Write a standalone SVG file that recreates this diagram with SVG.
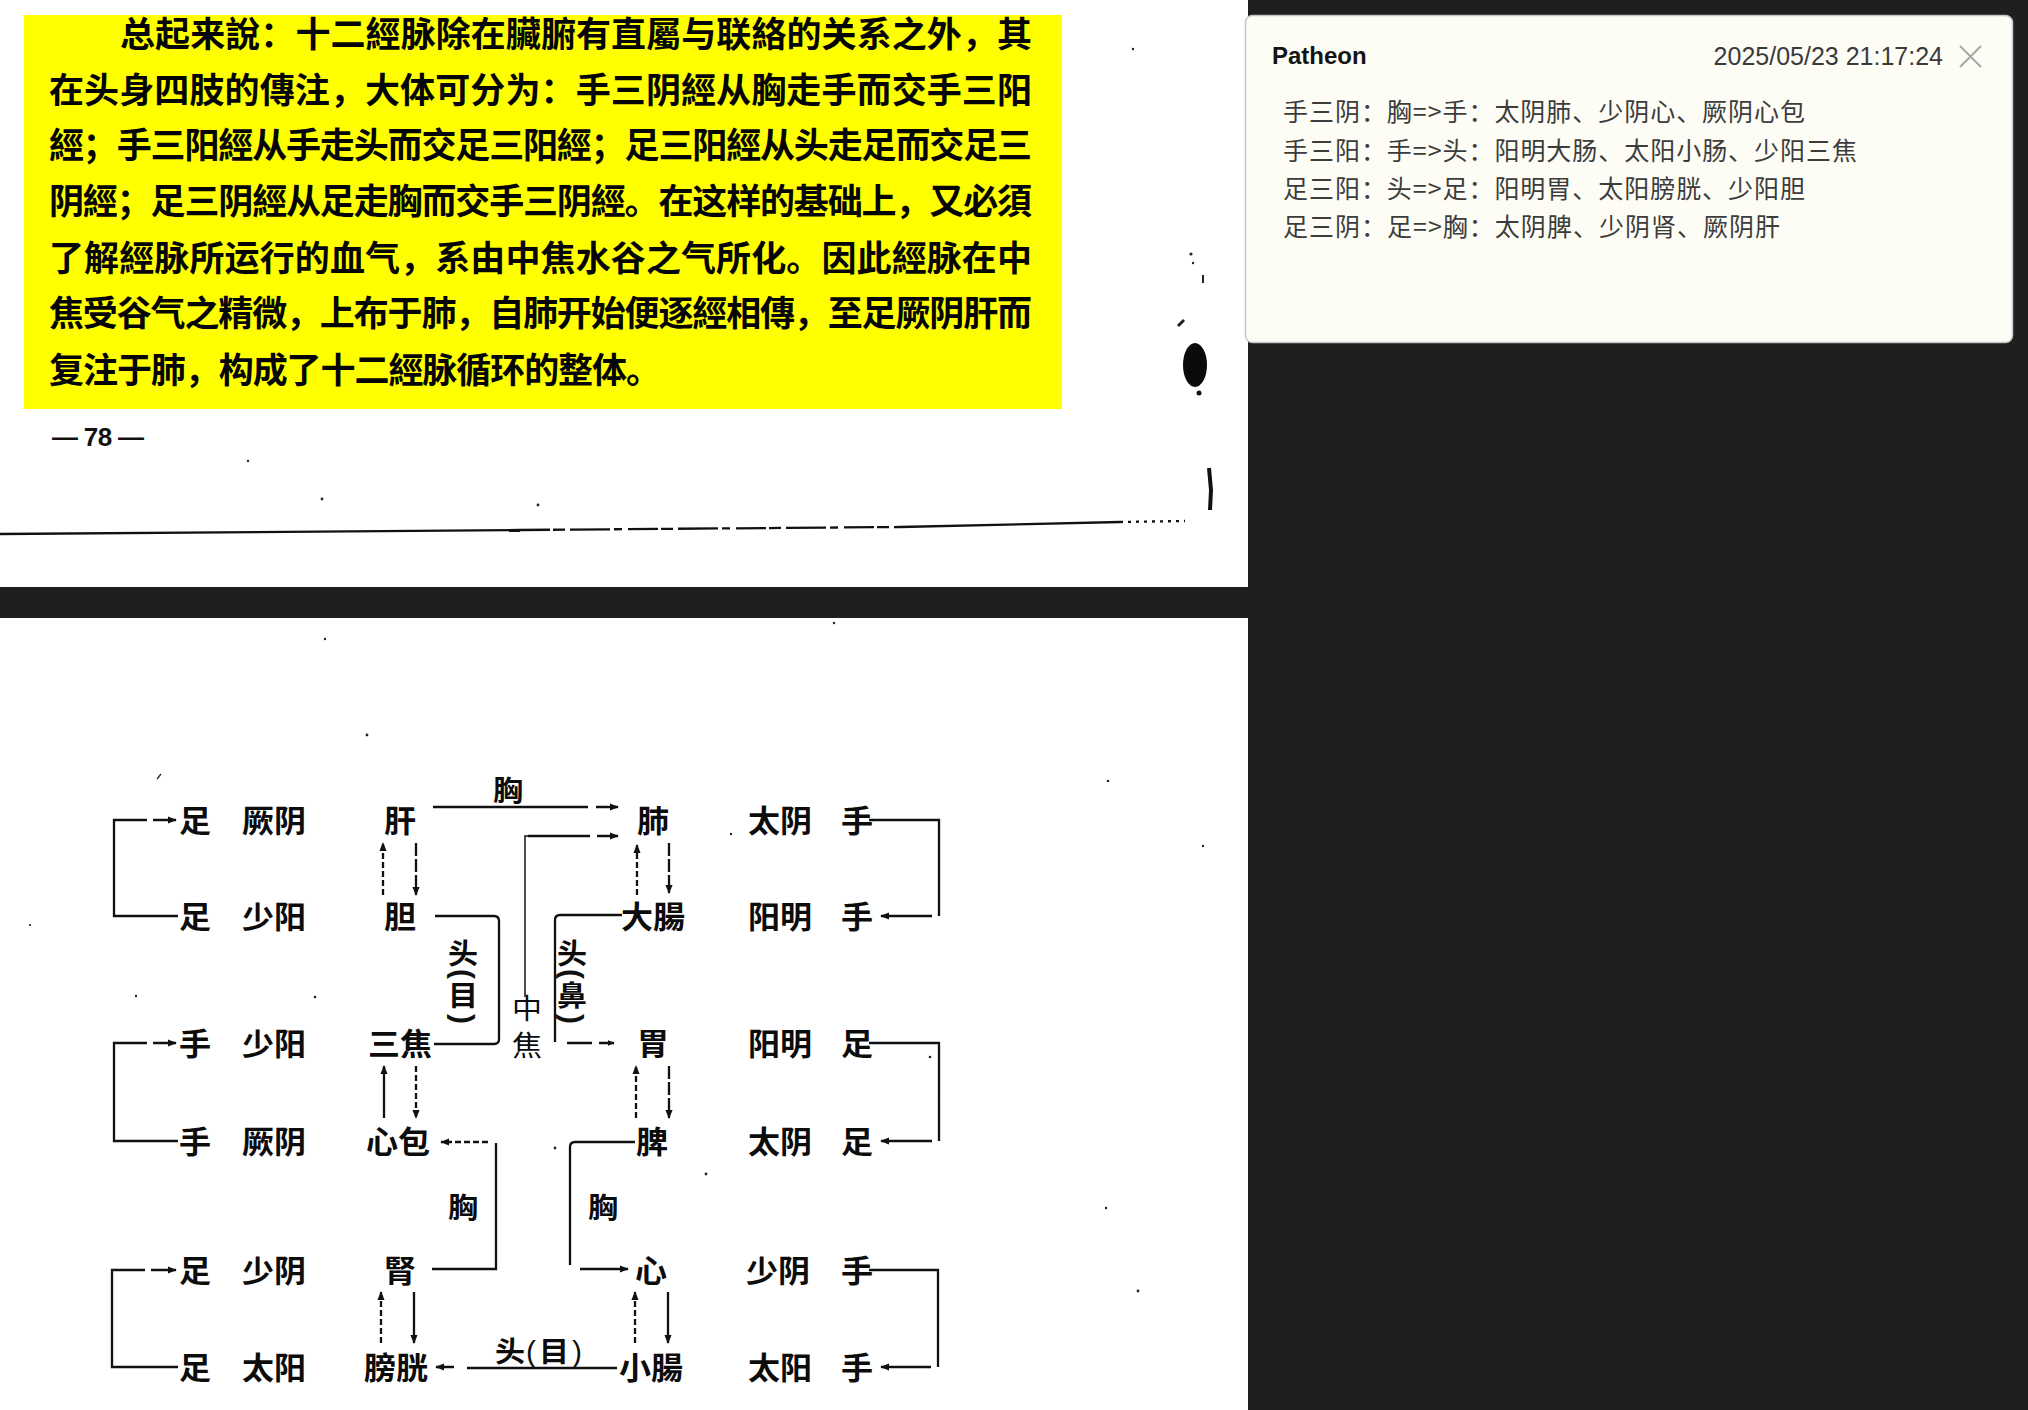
<svg xmlns="http://www.w3.org/2000/svg" width="2028" height="1410" viewBox="0 0 2028 1410">
  <defs>
    <style>
      .pg { font-family: "Noto Sans CJK SC", "Noto Sans CJK TC", sans-serif; font-weight: 700; font-size: 35px; fill: #050505; }
      .num { font-family: "Liberation Sans", sans-serif; font-weight: 700; font-size: 26px; fill: #111; }
      .lbl { font-family: "Noto Sans CJK SC", "Noto Sans CJK TC", sans-serif; font-weight: 700; font-size: 32px; text-anchor: middle; fill: #0c0c0c; }
      .sm { font-size: 30px; }
      .thin { font-weight: 400; }
      .par { font-family: "Liberation Sans", sans-serif; font-size: 30px; text-anchor: middle; fill: #111; }
      .parv { font-weight: 700; dominant-baseline: central; }
      .ln { fill: none; stroke: #111; stroke-width: 2.3; }
      .lt { stroke-width: 1.5; }
      .dsh { stroke-dasharray: 6 3; }
      .dsl { stroke-dasharray: 13 3; }
      .ctitle { font-family: "Liberation Sans", sans-serif; font-weight: 700; font-size: 24px; fill: #141414; }
      .cdate { font-family: "Liberation Sans", sans-serif; font-size: 25px; fill: #3a3a3a; text-anchor: end; }
      .ctext { font-family: "Noto Sans CJK SC", sans-serif; font-size: 25px; fill: #3c3c3c; }
      .speck { fill: #222; }
    </style>
    <marker id="ah" viewBox="0 0 10 10" refX="9" refY="5" markerWidth="9" markerHeight="9" markerUnits="userSpaceOnUse" orient="auto">
      <path d="M0,1 L10,5 L0,9 Z" fill="#111"/>
    </marker>
    <marker id="ahs" viewBox="0 0 10 10" refX="9" refY="5" markerWidth="7" markerHeight="7" markerUnits="userSpaceOnUse" orient="auto">
      <path d="M0,1 L10,5 L0,9 Z" fill="#111"/>
    </marker>
  </defs>

  <!-- window background -->
  <rect x="0" y="0" width="2028" height="1410" fill="#1f1f1f"/>

  <!-- upper page -->
  <g id="page-top">
    <rect x="0" y="0" width="1248" height="587" fill="#ffffff"/>
    <rect x="24" y="15" width="1038" height="394" fill="#ffff00"/>
    <text class="pg" x="120" y="47" textLength="912" lengthAdjust="spacing">总起来說：十二經脉除在臟腑有直屬与联絡的关系之外，其</text>
    <text class="pg" x="49" y="103" textLength="983" lengthAdjust="spacing">在头身四肢的傳注，大体可分为：手三阴經从胸走手而交手三阳</text>
    <text class="pg" x="49" y="158" textLength="983" lengthAdjust="spacing">經；手三阳經从手走头而交足三阳經；足三阳經从头走足而交足三</text>
    <text class="pg" x="49" y="214" textLength="983" lengthAdjust="spacing">阴經；足三阴經从足走胸而交手三阴經。在这样的基础上，又必須</text>
    <text class="pg" x="49" y="271" textLength="983" lengthAdjust="spacing">了解經脉所运行的血气，系由中焦水谷之气所化。因此經脉在中</text>
    <text class="pg" x="49" y="326" textLength="983" lengthAdjust="spacing">焦受谷气之精微，上布于肺，自肺开始便逐經相傳，至足厥阴肝而</text>
    <text class="pg" x="49" y="383" textLength="612" lengthAdjust="spacing">复注于肺，构成了十二經脉循环的整体。</text>
    <text class="num" x="52" y="446" textLength="92" lengthAdjust="spacing">— 78 —</text>

    <!-- margin marks -->
    <ellipse cx="1195" cy="365" rx="12" ry="22" fill="#0a0a0a"/>
    <circle cx="1199" cy="393" r="2.5" fill="#111"/>
    <path d="M1209,468 L1211,490 L1210,510" stroke="#111" stroke-width="4" fill="none"/>
    <path d="M1178,326 L1184,320" stroke="#222" stroke-width="3"/>
    <circle class="speck" cx="1191" cy="254" r="1.6"/>
    <circle class="speck" cx="1193" cy="263" r="1.2"/>
    <rect class="speck" x="1202" y="275" width="2" height="8"/>
    <circle class="speck" cx="1133" cy="49" r="1.2"/>
    <circle class="speck" cx="322" cy="499" r="1.4"/>
    <circle class="speck" cx="538" cy="505" r="1.4"/>
    <circle class="speck" cx="248" cy="461" r="1.2"/>

    <!-- scanned rule near page foot -->
    <path class="ln" d="M0,534 L520,530" stroke-width="3.4" stroke="#1a1a1a"/>
    <path class="ln" d="M520,530 L900,527" stroke-width="2" stroke-dasharray="30 3 12 5 40 4 8 6" stroke="#333"/>
    <path class="ln" d="M900,527 L1120,522" stroke-width="2.6" stroke="#222"/>
    <path class="ln" d="M1120,522 L1185,521" stroke-width="1.6" stroke-dasharray="3 5" stroke="#444"/>
  </g>

  <!-- lower page -->
  <rect x="0" y="618" width="1248" height="792" fill="#ffffff"/>

  <!-- note card -->
  <g id="note-card">
    <rect x="1245.5" y="15.5" width="767" height="327" rx="7" fill="#fdfdf6" stroke="#c4c4c4" stroke-width="1.5"/>
    <text class="ctitle" x="1272" y="64">Patheon</text>
    <text class="cdate" x="1943" y="65">2025/05/23 21:17:24</text>
    <path d="M1960,46 L1981,67 M1981,46 L1960,67" stroke="#a8a8a8" stroke-width="2" fill="none"/>
    <text class="ctext" x="1283" y="121" textLength="522" lengthAdjust="spacing">手三阴：胸=&gt;手：太阴肺、少阴心、厥阴心包</text>
    <text class="ctext" x="1283" y="160" textLength="574" lengthAdjust="spacing">手三阳：手=&gt;头：阳明大肠、太阳小肠、少阳三焦</text>
    <text class="ctext" x="1283" y="198" textLength="522" lengthAdjust="spacing">足三阳：头=&gt;足：阳明胃、太阳膀胱、少阳胆</text>
    <text class="ctext" x="1283" y="236" textLength="497" lengthAdjust="spacing">足三阴：足=&gt;胸：太阴脾、少阴肾、厥阴肝</text>
  </g>

  <!-- meridian circulation chart -->
  <g id="chart">
    <!-- left column channels -->
    <g id="ch-zu-jueyin-gan">
      <text class="lbl" transform="translate(195 820) scale(1 .95)" dy="12.2">足</text>
      <text class="lbl" transform="translate(274 820) scale(1 .95)" dy="12.2">厥阴</text>
      <text class="lbl" transform="translate(400 820) scale(1 .95)" dy="12.2">肝</text>
    </g>
    <g id="ch-zu-shaoyang-dan">
      <text class="lbl" transform="translate(195 916) scale(1 .95)" dy="12.2">足</text>
      <text class="lbl" transform="translate(274 916) scale(1 .95)" dy="12.2">少阳</text>
      <text class="lbl" transform="translate(400 916) scale(1 .95)" dy="12.2">胆</text>
    </g>
    <g id="ch-shou-shaoyang-sanjiao">
      <text class="lbl" transform="translate(195 1043) scale(1 .95)" dy="12.2">手</text>
      <text class="lbl" transform="translate(274 1043) scale(1 .95)" dy="12.2">少阳</text>
      <text class="lbl" transform="translate(400 1043) scale(1 .95)" dy="12.2">三焦</text>
    </g>
    <g id="ch-shou-jueyin-xinbao">
      <text class="lbl" transform="translate(195 1141) scale(1 .95)" dy="12.2">手</text>
      <text class="lbl" transform="translate(274 1141) scale(1 .95)" dy="12.2">厥阴</text>
      <text class="lbl" transform="translate(398 1141) scale(1 .95)" dy="12.2">心包</text>
    </g>
    <g id="ch-zu-shaoyin-shen">
      <text class="lbl" transform="translate(195 1270) scale(1 .95)" dy="12.2">足</text>
      <text class="lbl" transform="translate(274 1270) scale(1 .95)" dy="12.2">少阴</text>
      <text class="lbl" transform="translate(400 1270) scale(1 .95)" dy="12.2">腎</text>
    </g>
    <g id="ch-zu-taiyang-pangguang">
      <text class="lbl" transform="translate(195 1367) scale(1 .95)" dy="12.2">足</text>
      <text class="lbl" transform="translate(274 1367) scale(1 .95)" dy="12.2">太阳</text>
      <text class="lbl" transform="translate(396 1367) scale(1 .95)" dy="12.2">膀胱</text>
    </g>

    <!-- right column channels -->
    <g id="ch-shou-taiyin-fei">
      <text class="lbl" transform="translate(653 820) scale(1 .95)" dy="12.2">肺</text>
      <text class="lbl" transform="translate(780 820) scale(1 .95)" dy="12.2">太阴</text>
      <text class="lbl" transform="translate(857 820) scale(1 .95)" dy="12.2">手</text>
    </g>
    <g id="ch-shou-yangming-dachang">
      <text class="lbl" transform="translate(653 916) scale(1 .95)" dy="12.2">大腸</text>
      <text class="lbl" transform="translate(780 916) scale(1 .95)" dy="12.2">阳明</text>
      <text class="lbl" transform="translate(857 916) scale(1 .95)" dy="12.2">手</text>
    </g>
    <g id="ch-zu-yangming-wei">
      <text class="lbl" transform="translate(653 1043) scale(1 .95)" dy="12.2">胃</text>
      <text class="lbl" transform="translate(780 1043) scale(1 .95)" dy="12.2">阳明</text>
      <text class="lbl" transform="translate(857 1043) scale(1 .95)" dy="12.2">足</text>
    </g>
    <g id="ch-zu-taiyin-pi">
      <text class="lbl" transform="translate(652 1141) scale(1 .95)" dy="12.2">脾</text>
      <text class="lbl" transform="translate(780 1141) scale(1 .95)" dy="12.2">太阴</text>
      <text class="lbl" transform="translate(857 1141) scale(1 .95)" dy="12.2">足</text>
    </g>
    <g id="ch-shou-shaoyin-xin">
      <text class="lbl" transform="translate(651 1270) scale(1 .95)" dy="12.2">心</text>
      <text class="lbl" transform="translate(778 1270) scale(1 .95)" dy="12.2">少阴</text>
      <text class="lbl" transform="translate(857 1270) scale(1 .95)" dy="12.2">手</text>
    </g>
    <g id="ch-shou-taiyang-xiaochang">
      <text class="lbl" transform="translate(651 1367) scale(1 .95)" dy="12.2">小腸</text>
      <text class="lbl" transform="translate(780 1367) scale(1 .95)" dy="12.2">太阳</text>
      <text class="lbl" transform="translate(857 1367) scale(1 .95)" dy="12.2">手</text>
    </g>

    <!-- middle burner, where the cycle starts -->
    <g id="zhongjiao">
      <text class="lbl sm thin" transform="translate(527 1008) scale(1 .95)" dy="11.4">中</text>
      <text class="lbl sm thin" transform="translate(527 1045) scale(1 .95)" dy="11.4">焦</text>
    </g>

    <g id="connectors">
      <!-- limb ends: left brackets -->
      <path class="ln" d="M178,916 H114 V820 H147 M153,820 H176" marker-end="url(#ah)"/>
      <path class="ln" d="M178,1141 H114 V1043 H147 M153,1043 H176" marker-end="url(#ah)"/>
      <path class="ln" d="M178,1367 H112 V1270 H145 M151,1270 H176" marker-end="url(#ah)"/>
      <!-- limb ends: right brackets -->
      <path class="ln" d="M869,820 H939 V916 M932,916 H881" marker-end="url(#ah)"/>
      <path class="ln" d="M869,1043 H939 V1141 M932,1141 H881" marker-end="url(#ah)"/>
      <path class="ln" d="M869,1270 H938 V1367 M931,1367 H881" marker-end="url(#ah)"/>

      <!-- interior-exterior pairs -->
      <path class="ln dsh" d="M383,895 V843" marker-end="url(#ah)"/>
      <path class="ln dsl" d="M416,843 V895" marker-end="url(#ah)"/>
      <path class="ln" d="M384,1118 V1066" marker-end="url(#ah)"/>
      <path class="ln dsh" d="M416,1066 V1118" marker-end="url(#ah)"/>
      <path class="ln dsh" d="M381,1343 V1292" marker-end="url(#ah)"/>
      <path class="ln" d="M414,1292 V1343" marker-end="url(#ah)"/>
      <path class="ln dsh" d="M637,895 V845" marker-end="url(#ah)"/>
      <path class="ln dsl" d="M669,843 V893" marker-end="url(#ah)"/>
      <path class="ln dsh" d="M636,1118 V1066" marker-end="url(#ah)"/>
      <path class="ln dsl" d="M669,1066 V1118" marker-end="url(#ah)"/>
      <path class="ln dsh" d="M635,1343 V1292" marker-end="url(#ah)"/>
      <path class="ln" d="M668,1292 V1343" marker-end="url(#ah)"/>

      <!-- liver to lung through the chest -->
      <path class="ln" d="M433,807 H588 M596,807 H618" marker-end="url(#ah)"/>
      <text class="lbl sm" transform="translate(508 790) scale(1 .95)" dy="11.4">胸</text>

      <!-- middle burner to lung -->
      <path class="ln lt" d="M525,997 V836 H528"/>
      <path class="ln" d="M528,836 H590 M597,836 H618" marker-end="url(#ah)"/>

      <!-- sanjiao to gallbladder via the head (eye) -->
      <path class="ln" d="M435,916 H494 Q499,916 499,921 V1039 Q499,1044 494,1044 H434"/>
      <text class="lbl sm" transform="translate(463 953) scale(1 .95)" dy="11.4">头</text>
      <text class="par parv" transform="translate(463 974) rotate(90)">(</text>
      <text class="lbl sm" transform="translate(463 995) scale(1 .95)" dy="11.4">目</text>
      <text class="par parv" transform="translate(463 1019) rotate(90)">)</text>

      <!-- large intestine to stomach via the head (nose) -->
      <path class="ln" d="M622,915 H560 Q555,915 555,920 V1042"/>
      <path class="ln" d="M567,1043 H592 M599,1043 H614" marker-end="url(#ahs)"/>
      <text class="lbl sm" transform="translate(572 953) scale(1 .95)" dy="11.4">头</text>
      <text class="par parv" transform="translate(572 974) rotate(90)">(</text>
      <text class="lbl sm" transform="translate(572 995) scale(1 .95)" dy="11.4">鼻</text>
      <text class="par parv" transform="translate(572 1019) rotate(90)">)</text>

      <!-- kidney to pericardium through the chest -->
      <path class="ln" d="M432,1269 H496 V1143"/>
      <path class="ln dsh" d="M488,1142 H441" marker-end="url(#ah)"/>
      <text class="lbl sm" transform="translate(463 1207) scale(1 .95)" dy="11.4">胸</text>

      <!-- spleen to heart through the chest -->
      <path class="ln" d="M635,1142 H575 Q570,1142 570,1147 V1265"/>
      <path class="ln" d="M580,1269 H628" marker-end="url(#ah)"/>
      <text class="lbl sm" transform="translate(603 1207) scale(1 .95)" dy="11.4">胸</text>

      <!-- small intestine to bladder via the head (eye) -->
      <path class="ln" d="M617,1368 H467 M454,1367 H436" marker-end="url(#ah)"/>
      <text class="lbl sm" transform="translate(510 1351) scale(1 .95)" dy="11.4">头</text>
      <text class="par" x="531" y="1362">(</text>
      <text class="lbl sm" transform="translate(554 1351) scale(1 .95)" dy="11.4">目</text>
      <text class="par" x="577" y="1362">)</text>
    </g>

    <!-- paper specks -->
    <g id="specks">
      <path d="M157,779 L161,774" stroke="#333" stroke-width="1.5"/>
      <circle class="speck" cx="1108" cy="781" r="1.3"/>
      <circle class="speck" cx="834" cy="623" r="1.2"/>
      <circle class="speck" cx="367" cy="735" r="1.4"/>
      <circle class="speck" cx="325" cy="639" r="1.2"/>
      <circle class="speck" cx="731" cy="834" r="1.2"/>
      <circle class="speck" cx="1203" cy="846" r="1.2"/>
      <circle class="speck" cx="930" cy="1057" r="1.3"/>
      <circle class="speck" cx="1106" cy="1208" r="1.2"/>
      <circle class="speck" cx="1138" cy="1291" r="1.4"/>
      <circle class="speck" cx="136" cy="996" r="1.2"/>
      <circle class="speck" cx="315" cy="997" r="1.3"/>
      <circle class="speck" cx="706" cy="1174" r="1.4"/>
      <circle class="speck" cx="555" cy="1148" r="1.4"/>
      <circle class="speck" cx="939" cy="1099" r="1.2"/>
      <circle class="speck" cx="30" cy="925" r="1.1"/>
    </g>
  </g>
</svg>
